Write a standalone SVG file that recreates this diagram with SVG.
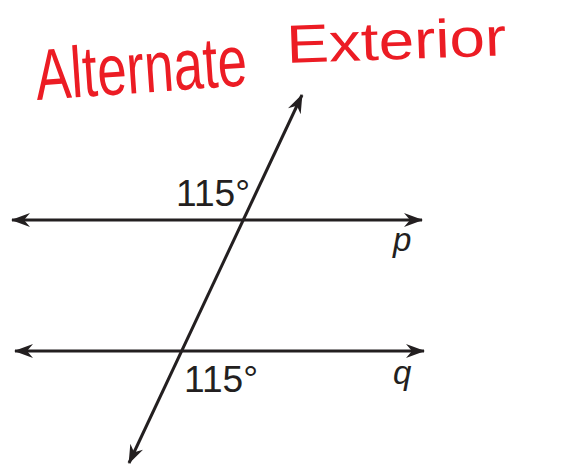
<svg xmlns="http://www.w3.org/2000/svg" width="572" height="467" viewBox="0 0 572 467">
  <style>
    .ln { stroke: #231f20; stroke-width: 3; fill: none; }
    .lbl { font-family: "Liberation Sans", Arial, sans-serif; font-size: 37px; fill: #231f20; }
    .var { font-family: "Liberation Sans", Arial, sans-serif; font-size: 33px; font-style: italic; fill: #231f20; }
    .hand { font-family: "Liberation Sans Narrow", "Liberation Sans", sans-serif; fill: #ec1c24; }
  </style>
  <defs>
    <marker id="ah" markerWidth="22" markerHeight="18" refX="18" refY="9" orient="auto-start-reverse" markerUnits="userSpaceOnUse">
      <path d="M0,2 L19,9 L0,16 L6,9 Z" fill="#231f20"/>
    </marker>
  </defs>
  <rect width="572" height="467" fill="#ffffff"/>
  <g id="title">
    <text class="hand" x="37" y="100" font-size="72" textLength="212" lengthAdjust="spacingAndGlyphs" transform="rotate(-4 37 100)">Alternate</text>
    <text class="hand" x="287" y="63" font-size="54" textLength="220" lengthAdjust="spacingAndGlyphs" transform="rotate(-2 287 63)">Exterior</text>
  </g>
  <g id="connectors">
    <line id="line-p" class="ln" x1="12" y1="220" x2="422" y2="220" marker-start="url(#ah)" marker-end="url(#ah)"/>
    <line id="line-q" class="ln" x1="15" y1="351" x2="424" y2="351" marker-start="url(#ah)" marker-end="url(#ah)"/>
    <line id="transversal" class="ln" x1="302" y1="95" x2="129" y2="463" marker-start="url(#ah)" marker-end="url(#ah)"/>
  </g>
  <g id="angle-top">
    <text class="lbl" x="176" y="206" textLength="74" lengthAdjust="spacingAndGlyphs">115°</text>
  </g>
  <g id="angle-bottom">
    <text class="lbl" x="184" y="392" textLength="74" lengthAdjust="spacingAndGlyphs">115°</text>
  </g>
  <g id="label-p">
    <text class="var" x="393" y="251">p</text>
  </g>
  <g id="label-q">
    <text class="var" x="393" y="384">q</text>
  </g>
</svg>
